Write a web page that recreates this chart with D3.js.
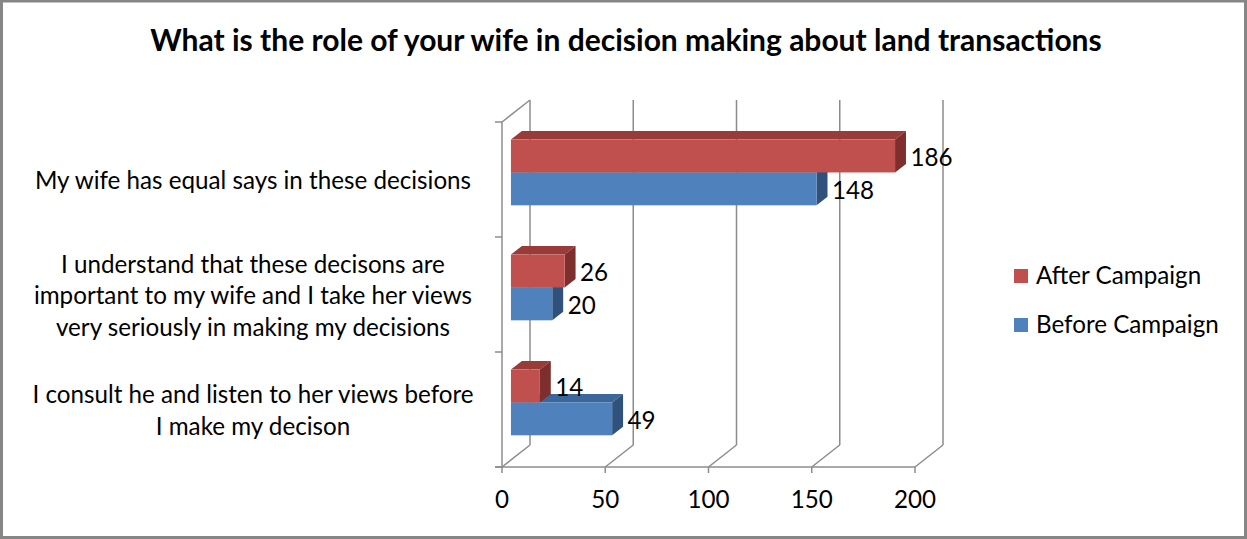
<!DOCTYPE html>
<html>
<head>
<meta charset="utf-8">
<script src="https://cdn.jsdelivr.net/npm/d3@7"></script>
<style>
  html, body { margin: 0; padding: 0; background: #fff; }
  svg { display: block; }
  text { font-family: Lato, "Open Sans", sans-serif; fill: #000; }
</style>
</head>
<body>
<svg id="chart" width="1247" height="539"></svg>
<script>
// Categories, listed bottom to top as in the source sheet (line breaks = wrapped label lines)
const categories = [
  "I consult he and listen to her views before\nI make my decison",
  "I understand that these decisons are\nimportant to my wife and I take her views\nvery seriously in making my decisions",
  "My wife has equal says in these decisions"
];
const seriesNames = ["After Campaign", "Before Campaign"];
const afterCampaign = [14, 26, 186];
const beforeCampaign = [49, 20, 148];
const xTicks = [0, 50, 100, 150, 200];
const titleText = "What is the role of your wife in decision making about land transactions";

const colors = {
  "After Campaign":  { front: "#C0504D", top: "#983B39", side: "#7E2F2D" },
  "Before Campaign": { front: "#4F81BD", top: "#3C679A", side: "#30517C" }
};

const labelSize = 24.2;

const svg = d3.select("#chart");
const W = 1247, H = 539;

// chart border
svg.append("rect")
  .attr("x", 1.5).attr("y", 1).attr("width", W - 3).attr("height", H - 2.5)
  .attr("fill", "#fff").attr("stroke", "#868686").attr("stroke-width", 3);

// title
svg.append("text")
  .attr("x", 626).attr("y", 51)
  .attr("text-anchor", "middle")
  .attr("font-size", 30).attr("font-weight", "bold")
  .text(titleText);

// front plane of the plot and the depth vector of the 3D box
const front = { left: 502, right: 915, top: 122, bottom: 467 };
const depth = { dx: 28, dy: -22 };
const barDepthStart = 0.32, barDepthEnd = 0.71;

const x = d3.scaleLinear().domain([0, 200]).range([front.left, front.right]);
const y = d3.scaleBand()
  .domain(categories.slice().reverse())
  .range([front.top, front.bottom])
  .padding(0);
const ySeries = d3.scaleBand()
  .domain(seriesNames)
  .range([0, y.bandwidth()])
  .paddingInner(0)
  .paddingOuter(0.75);

const gridColor = "#8C8C8C";
const grid = svg.append("g").attr("stroke", gridColor).attr("stroke-width", 1.5).attr("fill", "none");

// back wall gridlines and floor lines
xTicks.forEach(v => {
  grid.append("line")
    .attr("x1", x(v) + depth.dx).attr("x2", x(v) + depth.dx)
    .attr("y1", front.top + depth.dy).attr("y2", front.bottom + depth.dy);
  grid.append("line")
    .attr("x1", x(v) + depth.dx).attr("y1", front.bottom + depth.dy)
    .attr("x2", x(v)).attr("y2", front.bottom);
  // tick marks below value axis
  grid.append("line")
    .attr("x1", x(v)).attr("x2", x(v))
    .attr("y1", front.bottom).attr("y2", front.bottom + 6);
});
// side wall: front edge and top edge
grid.append("line")
  .attr("x1", front.left).attr("x2", front.left)
  .attr("y1", front.top).attr("y2", front.bottom);
grid.append("line")
  .attr("x1", front.left).attr("y1", front.top)
  .attr("x2", front.left + depth.dx).attr("y2", front.top + depth.dy);
// front edge of floor
grid.append("line")
  .attr("x1", front.left - 7).attr("x2", front.right)
  .attr("y1", front.bottom).attr("y2", front.bottom);
// category ticks
const catEdges = y.domain().map(c => y(c)).concat([front.bottom]);
catEdges.forEach(yy => {
  grid.append("line")
    .attr("x1", front.left - 7).attr("x2", front.left)
    .attr("y1", yy).attr("y2", yy);
});

// value axis labels
svg.append("g").selectAll("text")
  .data(xTicks).join("text")
  .attr("x", d => x(d)).attr("y", 508)
  .attr("text-anchor", "middle")
  .attr("font-size", labelSize)
  .text(d => d);

// category labels
const catG = svg.append("g");
categories.forEach(c => {
  const lines = c.split("\n");
  const cy = y(c) + y.bandwidth() / 2 + 1;
  const lh = 31.5;
  lines.forEach((ln, i) => {
    catG.append("text")
      .attr("x", 253)
      .attr("y", cy + (i - (lines.length - 1) / 2) * lh + 8.5)
      .attr("text-anchor", "middle")
      .attr("font-size", labelSize)
      .text(ln);
  });
});

// 3D bars
const bars = [];
categories.forEach((c, i) => {
  // draw the lower bar first so the upper one covers its top face
  bars.push({ cat: c, series: "Before Campaign", value: beforeCampaign[i] });
  bars.push({ cat: c, series: "After Campaign", value: afterCampaign[i] });
});

const offX = depth.dx * barDepthStart, offY = depth.dy * barDepthStart;
const thX = depth.dx * (barDepthEnd - barDepthStart), thY = depth.dy * (barDepthEnd - barDepthStart);

const barG = svg.append("g");
bars.forEach(b => {
  const col = colors[b.series];
  const x0 = x(0) + offX;
  const x1 = x(b.value) + offX;
  const y0 = y(b.cat) + ySeries(b.series) + offY;
  const h = ySeries.bandwidth();
  const g = barG.append("g");
  // top face
  g.append("polygon")
    .attr("points", [[x0, y0], [x0 + thX, y0 + thY], [x1 + thX, y0 + thY], [x1, y0]].join(" "))
    .attr("fill", col.top);
  // side face
  g.append("polygon")
    .attr("points", [[x1, y0], [x1 + thX, y0 + thY], [x1 + thX, y0 + h + thY], [x1, y0 + h]].join(" "))
    .attr("fill", col.side);
  // front face
  g.append("rect")
    .attr("x", x0).attr("y", y0).attr("width", x1 - x0).attr("height", h)
    .attr("fill", col.front);
  // value label
  svg.append("text")
    .attr("x", x1 + thX + 4.5)
    .attr("y", y0 + h / 2 + 10)
    .attr("font-size", labelSize)
    .text(b.value);
});

// legend
const legend = svg.append("g");
seriesNames.forEach((s, i) => {
  const ly = 269 + i * 49;
  legend.append("rect")
    .attr("x", 1014).attr("y", ly).attr("width", 14).attr("height", 14)
    .attr("fill", colors[s].front);
  legend.append("text")
    .attr("x", 1036).attr("y", ly + 14.5)
    .attr("font-size", labelSize)
    .text(s);
});
</script>
</body>
</html>
